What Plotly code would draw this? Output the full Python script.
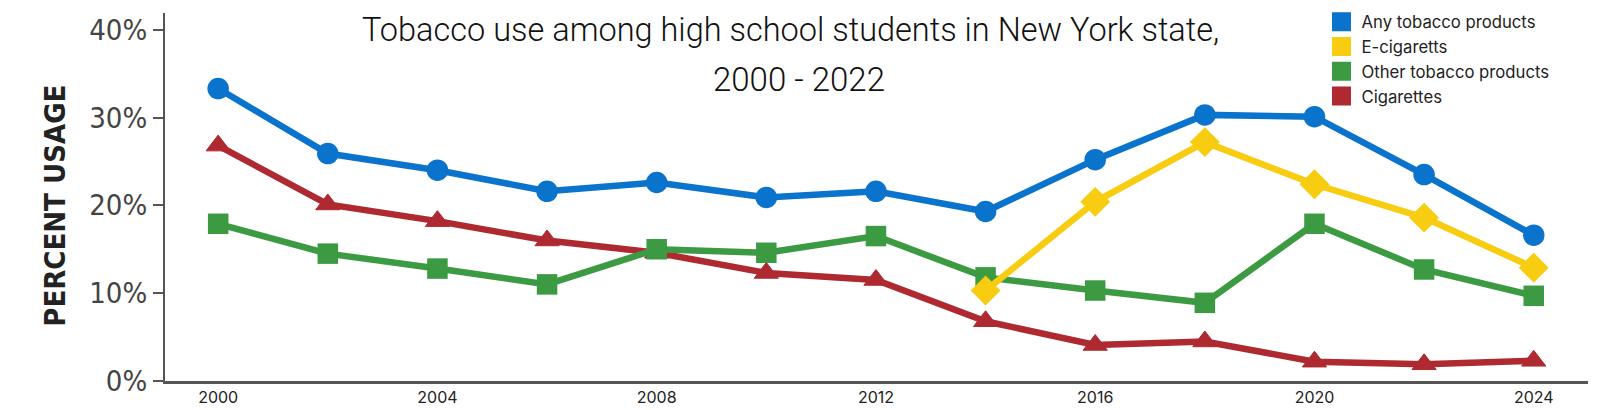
import plotly.graph_objects as go

years = [2000, 2002, 2004, 2006, 2008, 2010, 2012, 2014, 2016, 2018, 2020, 2022, 2024]
any_tobacco = [33.3, 25.9, 24.0, 21.6, 22.6, 20.9, 21.6, 19.3, 25.2, 30.3, 30.1, 23.5, 16.6]
ecig_years = [2014, 2016, 2018, 2020, 2022, 2024]
ecigs = [10.3, 20.4, 27.2, 22.4, 18.6, 12.9]
other_tobacco = [17.9, 14.5, 12.8, 11.0, 15.0, 14.6, 16.5, 11.8, 10.3, 8.9, 17.9, 12.7, 9.7]
cigarettes = [26.8, 20.1, 18.2, 16.0, 14.6, 12.3, 11.5, 6.8, 4.1, 4.5, 2.2, 1.9, 2.3]

x_tickvals = [2000, 2004, 2008, 2012, 2016, 2020, 2024]
y_tickvals = [0, 10, 20, 30, 40]
y_ticktext = ["0%", "10%", "20%", "30%", "40%"]

series_names = ["Any tobacco products", "E-cigaretts", "Other tobacco products", "Cigarettes"]
BLUE, YELLOW, GREEN, RED = "#0a73cc", "#f8cc10", "#3b9a42", "#ae2a30"

fig = go.Figure()

# data traces (drawn bottom to top)
fig.add_trace(go.Scatter(x=years, y=cigarettes, mode="lines+markers", showlegend=False,
                         line=dict(color=RED, width=6.5),
                         marker=dict(symbol="triangle-up", size=21, color=RED,
                                     line=dict(color=RED, width=1))))
fig.add_trace(go.Scatter(x=years, y=other_tobacco, mode="lines+markers", showlegend=False,
                         line=dict(color=GREEN, width=6.5),
                         marker=dict(symbol="square", size=20.5, color=GREEN)))
fig.add_trace(go.Scatter(x=ecig_years, y=ecigs, mode="lines+markers", showlegend=False,
                         line=dict(color=YELLOW, width=6.5),
                         marker=dict(symbol="diamond", size=23, color=YELLOW)))
fig.add_trace(go.Scatter(x=years, y=any_tobacco, mode="lines+markers", showlegend=False,
                         line=dict(color=BLUE, width=6.5),
                         marker=dict(symbol="circle", size=21.5, color=BLUE)))

# legend entries (square swatches)
for name, col in zip(series_names, [BLUE, YELLOW, GREEN, RED]):
    fig.add_trace(go.Scatter(x=[None], y=[None], mode="markers", name=name,
                             legendgroup=name,
                             marker=dict(symbol="square", size=16, color=col,
                                         line=dict(color=col, width=3))))

W, H = 1600, 410
OFF = 8  # page body margin offset
# plot area in page pixels
PL, PR, PT, PB = 165, 1588, 13, 381.5
pw = PR - PL
ph = PB - PT

def px(x):
    return (x - PL) / pw

def py(y):
    return (PB - y) / ph

fig.update_layout(
    width=W, height=H,
    margin=dict(l=PL - OFF, r=W - (PR - OFF), t=PT - OFF, b=H - (PB - OFF), autoexpand=False),
    paper_bgcolor="white", plot_bgcolor="white",
    showlegend=True,
    legend=dict(x=px(1321.5), y=py(4.5), xanchor="left", yanchor="top",
                font=dict(family="Inter, Lato, sans-serif", size=16.7, color="#222"),
                tracegroupgap=0, bgcolor="rgba(0,0,0,0)"),
    xaxis=dict(range=[1999.03, 2024.99], tickvals=x_tickvals, showgrid=False, zeroline=False,
               showline=True, linecolor="#555", linewidth=2.5, ticks="", automargin=False,
               tickfont=dict(family="Inter, Lato, sans-serif", size=16, color="#222")),
    yaxis=dict(range=[0, 41.9], tickvals=y_tickvals, ticktext=y_ticktext, showgrid=False,
               zeroline=False, showline=True, linecolor="#555", linewidth=2, automargin=False,
               ticks="outside", ticklen=10, tickwidth=2, tickcolor="#555",
               ticklabelstandoff=0,
               tickfont=dict(family="DejaVu Sans Condensed, sans-serif",
                             size=29, color="#444")),
    annotations=[
        dict(text="PERCENT USAGE", textangle=-90, xref="paper", yref="paper",
             x=px(55), y=py(206), xanchor="center", yanchor="middle", showarrow=False,
             font=dict(family="DejaVu Sans Condensed, sans-serif",
                       size=29, color="#222", weight="bold")),
        dict(text="Tobacco use among high school students in New York state,", xref="paper",
             yref="paper", x=px(790), y=py(30), xanchor="center", yanchor="middle",
             showarrow=False,
             font=dict(family="Roboto, sans-serif", size=32.5, color="#111", weight=300)),
        dict(text="2000 - 2022", xref="paper", yref="paper", x=px(799), y=py(80),
             xanchor="center", yanchor="middle", showarrow=False,
             font=dict(family="Roboto, sans-serif", size=33, color="#111", weight=300)),
    ],
)

fig.write_html("out.html")
